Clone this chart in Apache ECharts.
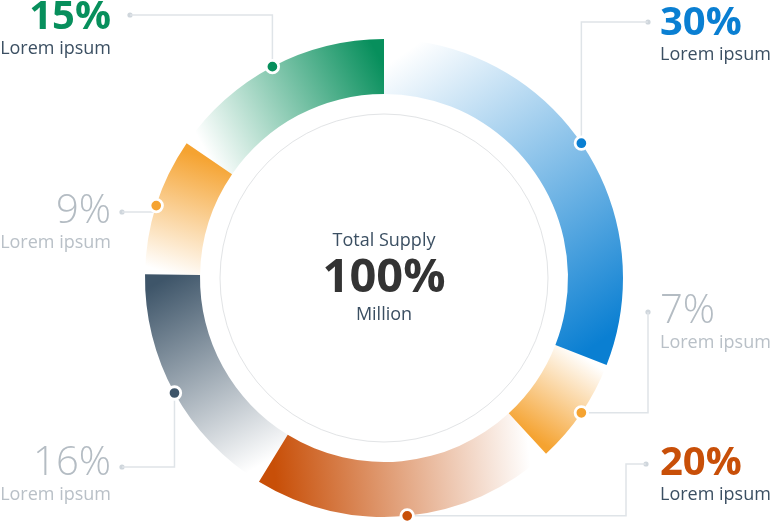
<!DOCTYPE html>
<html><head><meta charset="utf-8">
<script src="https://cdn.jsdelivr.net/npm/echarts@6/dist/echarts.min.js"></script>
<style>html,body{margin:0;padding:0;background:#fff}#c{width:772px;height:525px}</style>
</head><body><div id="c"></div>
<script>
// ---------- data ----------
const categories = ['Segment A', 'Segment B', 'Segment C', 'Segment D', 'Segment E', 'Segment F'];
const values = [30, 7, 20, 16, 9, 15];
const percentLabels = ['30%', '7%', '20%', '16%', '9%', '15%'];
const subLabels = ['Lorem ipsum', 'Lorem ipsum', 'Lorem ipsum', 'Lorem ipsum', 'Lorem ipsum', 'Lorem ipsum'];
const centerTitle = 'Total Supply';
const centerValue = '100%';
const centerUnit = 'Million';

// ---------- styles / layout ----------
const segmentColors = ['#0a7fd2', '#f5a331', '#c84f08', '#3e5569', '#f5a331', '#078f5c'];
const highlighted = [true, false, true, false, false, true];
const FONT = '"Open Sans", "Noto Sans", sans-serif';
const CX = 384, CY = 278, R_IN = 184, R_OUT = 239;
const labelSpec = [
  { side: 'right', textX: 660, numY: 22, route: 'vh', endX: 648, endY: 22 },
  { side: 'right', textX: 660, numY: 310, route: 'hv', endX: 648, endY: 312 },
  { side: 'right', textX: 660, numY: 462, route: 'hvh', bendX: 626, endX: 646, endY: 464 },
  { side: 'left', textX: 111, numY: 462, route: 'vh', endX: 122, endY: 467 },
  { side: 'left', textX: 111, numY: 210, route: 'vh', endX: 122, endY: 212 },
  { side: 'left', textX: 111, numY: 16, route: 'vh', endX: 130, endY: 15 }
];

const total = values.reduce((a, b) => a + b, 0);
function hexToRgba(h, a) {
  const n = parseInt(h.slice(1), 16);
  return 'rgba(' + ((n >> 16) & 255) + ',' + ((n >> 8) & 255) + ',' + (n & 255) + ',' + a + ')';
}
const rMid = (R_IN + R_OUT) / 2;
function arcPoint(frac) {
  const a = frac * 2 * Math.PI;
  return [CX + rMid * Math.sin(a), CY - rMid * Math.cos(a)];
}
let acc = 0;
const mids = [];
const pieData = values.map((v, i) => {
  const f0 = acc / total;
  acc += v;
  const f1 = acc / total;
  mids.push(acc - v / 2);
  const p0 = arcPoint(f0), p1 = arcPoint(f1);
  return {
    name: categories[i],
    value: v,
    itemStyle: {
      color: {
        type: 'linear', x: p0[0], y: p0[1], x2: p1[0], y2: p1[1], global: true,
        colorStops: [
          { offset: 0, color: hexToRgba(segmentColors[i], 0.0) },
          { offset: 1, color: segmentColors[i] }
        ]
      }
    }
  };
});

const rich = {
  lo: { fontFamily: FONT, fontSize: 40, fontWeight: 300, color: '#b4bcc3', lineHeight: 40 },
  sd: { fontFamily: FONT, fontSize: 18, color: '#3b4f62', lineHeight: 22 },
  sl: { fontFamily: FONT, fontSize: 18, color: '#b9c0c7', lineHeight: 22 }
};
segmentColors.forEach((c, i) => {
  rich['n' + i] = { fontFamily: FONT, fontSize: 40, fontWeight: 'bold', color: c, lineHeight: 40 };
});

const graphics = [
  { type: 'circle', shape: { cx: CX, cy: CY, r: 164 }, style: { fill: 'none', stroke: '#e2e4e6', lineWidth: 1 }, silent: true },
  { type: 'text', x: CX, y: 241, style: { text: centerTitle, fontFamily: FONT, fontSize: 18, fill: '#3b4f62', align: 'center', verticalAlign: 'middle' } },
  { type: 'text', x: CX, y: 279, style: { text: centerValue, fontFamily: FONT, fontSize: 47, fontWeight: 'bold', fill: '#333333', align: 'center', verticalAlign: 'middle' } },
  { type: 'text', x: CX, y: 315, style: { text: centerUnit, fontFamily: FONT, fontSize: 18, fill: '#3b4f62', align: 'center', verticalAlign: 'middle' } }
];
labelSpec.forEach(s => {
  graphics.push({ type: 'circle', shape: { cx: s.endX, cy: s.endY, r: 2.6 }, style: { fill: '#cfd6dc' }, silent: true });
});

const chart = echarts.init(document.getElementById('c'));
chart.setOption({
  animation: false,
  backgroundColor: '#ffffff',
  polar: { center: [CX, CY], radius: R_OUT },
  angleAxis: {
    type: 'value', min: 0, max: total, startAngle: 90, clockwise: true,
    axisLine: { show: false }, axisTick: { show: false }, axisLabel: { show: false }, splitLine: { show: false }
  },
  radiusAxis: {
    type: 'value', min: 0, max: 1,
    axisLine: { show: false }, axisTick: { show: false }, axisLabel: { show: false }, splitLine: { show: false }
  },
  graphic: graphics,
  series: [
    {
      type: 'pie',
      center: [CX, CY],
      radius: [R_IN, R_OUT],
      startAngle: 90,
      clockwise: true,
      silent: true,
      emphasis: { disabled: true },
      data: pieData,
      label: {
        show: true,
        position: 'outside',
        formatter: p => {
          const i = p.dataIndex;
          return highlighted[i]
            ? '{n' + i + '|' + percentLabels[i] + '}\n{sd|' + subLabels[i] + '}'
            : '{lo|' + percentLabels[i] + '}\n{sl|' + subLabels[i] + '}';
        },
        rich: rich
      },
      labelLine: { show: true, length: 5, length2: 5, lineStyle: { color: '#dfe4e8', width: 1.5 } },
      labelLayout: function (params) {
        const i = params.dataIndex;
        const s = labelSpec[i];
        const d = [params.labelLinePoints[0][0], params.labelLinePoints[0][1]];
        let pts;
        if (s.route === 'vh') pts = [d, [d[0], s.endY], [s.endX, s.endY]];
        else if (s.route === 'hv') pts = [d, [s.endX, d[1]], [s.endX, s.endY]];
        else pts = [d, [s.bendX, d[1]], [s.bendX, s.endY], [s.endX, s.endY]];
        return {
          x: s.textX,
          y: s.numY - 18,
          align: s.side === 'right' ? 'left' : 'right',
          verticalAlign: 'top',
          labelLinePoints: pts
        };
      }
    },
    {
      type: 'scatter',
      coordinateSystem: 'polar',
      silent: true,
      z: 10,
      symbolSize: 12.5,
      itemStyle: { borderColor: '#ffffff', borderWidth: 2.8, opacity: 1 },
      data: mids.map((m, i) => ({ value: [1, m], itemStyle: { color: segmentColors[i] } }))
    }
  ]
});
</script></body></html>
